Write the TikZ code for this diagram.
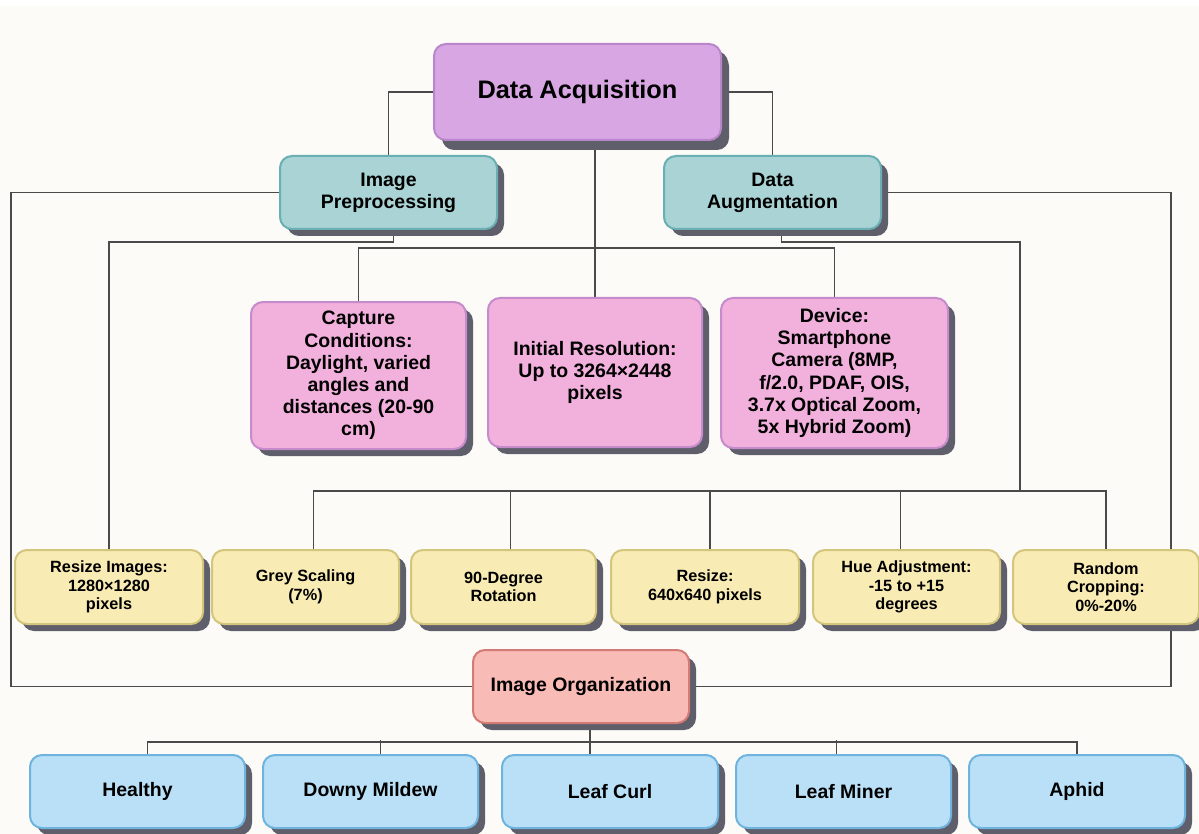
\documentclass[tikz,border=0pt]{standalone}
\usepackage{fontspec}
\setmainfont{Liberation Sans}
\usetikzlibrary{shadows}

\pgfdeclarelayer{paper}
\pgfdeclarelayer{wires}
\pgfsetlayers{paper,wires,main}

\definecolor{paperc}{HTML}{FCFBF7}
\definecolor{shadowc}{HTML}{5F5E6B}
\definecolor{wirec}{HTML}{4A4A4A}
\definecolor{acqfill}{HTML}{D8A7E3}
\definecolor{acqline}{HTML}{B986CC}
\definecolor{tealfill}{HTML}{A9D3D4}
\definecolor{tealline}{HTML}{69AFB3}
\definecolor{pinkfill}{HTML}{F2B0DC}
\definecolor{pinkline}{HTML}{C58BCB}
\definecolor{yelfill}{HTML}{F8EBB3}
\definecolor{yelline}{HTML}{D3C57C}
\definecolor{orgfill}{HTML}{F9BBB6}
\definecolor{orgline}{HTML}{D47B75}
\definecolor{bluefill}{HTML}{B9E0F7}
\definecolor{blueline}{HTML}{6FB4DF}

\tikzset{
  box/.style={draw, rounded corners=9pt, line width=1.5pt, align=center, inner sep=0pt,
    drop shadow={shadow xshift=5.25pt, shadow yshift=-5.25pt, fill=shadowc, opacity=1}},
  acqbox/.style={box, fill=acqfill, draw=acqline, minimum width=215.25pt, minimum height=72pt,
    font=\fontsize{19}{22}\selectfont\bfseries,
    drop shadow={shadow xshift=6pt, shadow yshift=-7.5pt, fill=shadowc, opacity=1}},
  tealbox/.style={box, fill=tealfill, draw=tealline, minimum width=162.75pt, minimum height=54.75pt,
    font=\fontsize{14.6}{16.5}\selectfont\bfseries},
  pinkbox/.style={box, fill=pinkfill, draw=pinkline, minimum width=161.25pt, minimum height=111pt,
    font=\fontsize{14.6}{16.6}\selectfont\bfseries},
  yelbox/.style={box, fill=yelfill, draw=yelline, minimum width=141pt, minimum height=55.5pt,
    font=\fontsize{12.2}{13.9}\selectfont\bfseries},
  orgbox/.style={box, fill=orgfill, draw=orgline, minimum width=162pt, minimum height=54.75pt,
    font=\fontsize{14.6}{16.5}\selectfont\bfseries},
  bluebox/.style={box, fill=bluefill, draw=blueline, minimum width=161.25pt, minimum height=54.75pt,
    font=\fontsize{14.6}{16.5}\selectfont\bfseries},
  wire/.style={draw=wirec, line width=1.1pt}
}

\begin{document}
\begin{tikzpicture}[x=0.75pt,y=0.75pt,yscale=-1,xscale=1]
\useasboundingbox (0,0) rectangle (1199,834);

% paper
\begin{pgfonlayer}{paper}
\fill[white] (0,0) rectangle (1199,834);
\fill[paperc] (0,6) rectangle (1199,834);
\end{pgfonlayer}

% top
\node[acqbox] (acq) at (577.5,92) {Data Acquisition};

% second row
\node[tealbox] (prep) at (388.5,192.5) {Image\\Preprocessing};
\node[tealbox] (aug) at (772.5,192.5) {Data\\Augmentation};

% acquisition details
\node[pinkbox, minimum height=110.25pt] (cap) at (358.5,375.5) {Capture\\Conditions:\\Daylight, varied\\angles and\\distances (20-90\\cm)};
\node[pinkbox, minimum width=160.5pt, minimum height=111.75pt] (ires) at (595,372.5) {Initial Resolution:\\Up to 3264×2448\\pixels};
\node[pinkbox, minimum width=170.25pt, minimum height=112.5pt] (dev) at (834.5,373) {Device:\\Smartphone\\Camera (8MP,\\f/2.0, PDAF, OIS,\\3.7x Optical Zoom,\\5x Hybrid Zoom)};

% preprocessing / augmentation steps
\node[yelbox] (rsz) at (109,587) {Resize Images:\\1280×1280\\pixels};
\node[yelbox, minimum width=140.25pt] (grey) at (305.5,587) {Grey Scaling\\(7\%)};
\node[yelbox, minimum width=138.75pt] (rot) at (503.5,587) {90-Degree\\Rotation};
\node[yelbox] (rsix) at (705,587) {Resize:\\640x640 pixels};
\node[yelbox, minimum width=140.25pt] (hue) at (906.5,587) {Hue Adjustment:\\-15 to +15\\degrees};
\node[yelbox, minimum width=139.5pt] (crop) at (1106,587) {Random\\Cropping:\\0\%-20\%};

% organization
\node[orgbox] (org) at (581,686.5) {Image Organization};

% classes
\node[bluebox] (healthy) at (137.5,791.5) {Healthy};
\node[bluebox] (downy) at (370.5,791.5) {Downy Mildew};
\node[bluebox, minimum width=162pt] (curl) at (610,791.5) {Leaf Curl};
\node[bluebox] (miner) at (843.5,791.5) {Leaf Miner};
\node[bluebox, minimum width=162pt] (aphid) at (1077,791.5) {Aphid};

\coordinate (lrail) at (11,400);
\coordinate (rrail) at (1171,400);
\coordinate (augbar) at (1020,491);

\begin{pgfonlayer}{wires}
% from acquisition
\draw[wire] (acq.west) -| (prep.north);
\draw[wire] (acq.east) -| (aug.north);
\draw[wire] (ires.north |- acq.south) -- (ires.north);
\draw[wire] (cap.north) -- ++(0,-53) -| (dev.north);
% preprocessing
\draw[wire] (prep.south) ++(5,0) -- ++(0,12) -| (rsz.north);
\draw[wire] (prep.west) -| (lrail) |- (org.west);
% augmentation
\draw[wire] (aug.south) ++(9,0) -- ++(0,12) -| (augbar);
\draw[wire] (grey.north) ++(8,0) |- (augbar) -| (crop.north);
\foreach \b/\dx in {rot/7,rsix/5,hue/-6}
  \draw[wire] (\b.north) ++(\dx,0) -- ++(0,-59);
\draw[wire] (aug.east) -| (rrail) |- (org.east);
% organization to classes
\draw[wire] (org.south) ++(9,0) -- ++(0,18) coordinate (orgbar);
\draw[wire] (healthy.north) ++(10,0) |- (orgbar) -| (aphid.north);
\foreach \b/\dx in {downy/10,curl/-20,miner/-7}
  \draw[wire] (\b.north) ++(\dx,0) -- ++(0,-14);
\end{pgfonlayer}
\end{tikzpicture}
\end{document}
